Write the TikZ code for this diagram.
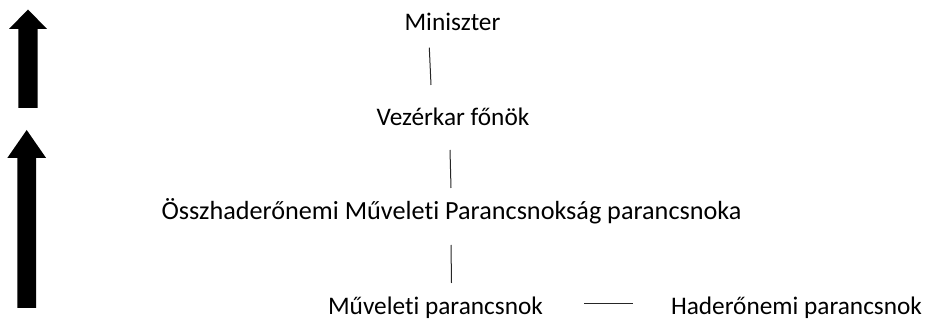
\documentclass[tikz,border=0pt]{standalone}
\usepackage{fontspec}
\setmainfont{Carlito}[Ligatures=NoCommon]
\usepackage{tikz}
\usepackage{xcolor}
\newcommand{\blockup}[6]{%
    \fill[black] (#1-#6,#4) -- (#1-#6,#3) -- (#1-#5,#3) -- (#1,#2)
        -- (#1+#5,#3) -- (#1+#6,#3) -- (#1+#6,#4) -- cycle;%
}
\usetikzlibrary{positioning}
\usetikzlibrary{calc}
\tikzset{
    rank/.style={inner sep=0pt, anchor=base, font=\fontsize{25.3}{30}\selectfont},
    tie/.style={line width=1pt, black!85}
}

\begin{document}
\begin{tikzpicture}[x=1pt, y=-1pt]
    \useasboundingbox (0,0) rectangle (932,320);

    \blockup{28}{9.5}{29}{108}{19}{9.7};
    \blockup{26.7}{130}{158}{308}{19.4}{9.4};

    %%%%%%

    \node [rank] (min) at (452.5,31) {Miniszter};
    \node [rank] (vkf) at (453,126) {Vezérkar főnök};
    \node [rank, font=\fontsize{26.2}{30}\selectfont] (ohmp) at (451.5,220) {Összhaderőnemi Műveleti Parancsnokság parancsnoka};
    \node [rank] (muvp) at (435.5,315) {Műveleti parancsnok};
    \node [rank] (hadp) at (796.5,315) {Haderőnemi parancsnok};

    %%%%%%

    \coordinate (t1) at ($ (min.base) + (-23.2,16.7) $);
    \coordinate (b1) at ($ (vkf.base) + (-22,-41) $);
    \coordinate (t2) at ($ (vkf.base) + (-3,24) $);
    \coordinate (b2) at ($ (ohmp.base) + (-0.5,-32) $);
    \coordinate (t3) at ($ (ohmp.base) + (-0.5,25) $);
    \coordinate (b3) at ($ (muvp.base) + (16,-32) $);
    \coordinate (l4) at ($ (muvp.base east) + (41.3,-11) $);
    \coordinate (r4) at ($ (hadp.base west) + (-38,-11) $);

    \draw [tie] (t1) -- (b1);
    \draw [tie] (t2) -- (b2);
    \draw [tie] (t3) -- (b3);
    \draw [tie] (l4) -- (r4);

\end{tikzpicture}
\end{document}
